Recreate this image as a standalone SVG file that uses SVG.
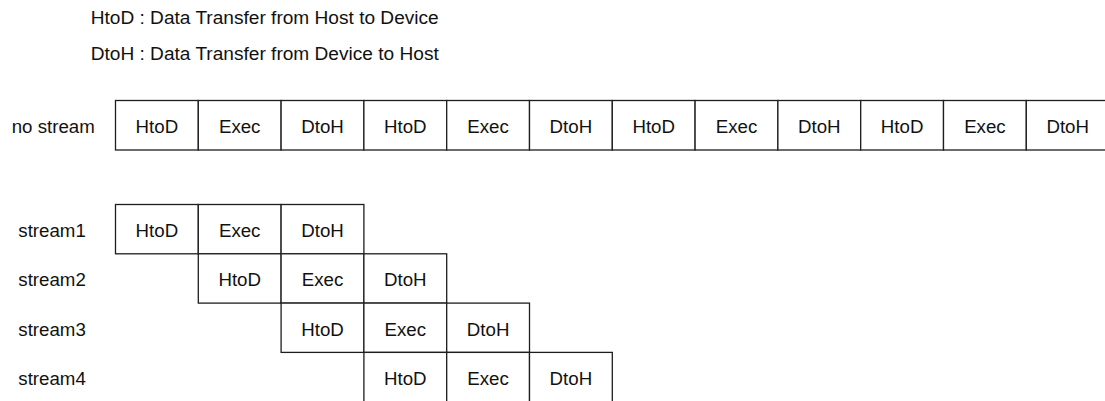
<svg xmlns="http://www.w3.org/2000/svg" width="1105" height="401" viewBox="0 0 1105 401">
<style>
text{font-family:"Liberation Sans",Arial,Helvetica,sans-serif;font-size:18.7px;fill:#111}
.lg{font-size:19.1px}
.c text{text-anchor:middle}
.c rect{fill:#fff;stroke:#1e1e1e;stroke-width:1.3}
</style>
<rect width="1105" height="401" fill="#fff"/>
<g id="legend">
<text class="lg" x="90.7" y="24.3">HtoD : Data Transfer from Host to Device</text>
<text class="lg" x="90.7" y="60.3">DtoH : Data Transfer from Device to Host</text>
</g>
<g id="labels">
<text x="11.7" y="133">no stream</text>
<text x="18.3" y="237">stream1</text>
<text x="18.3" y="286.3">stream2</text>
<text x="18.3" y="335.6">stream3</text>
<text x="18.3" y="384.9">stream4</text>
</g>
<g id="nostream" class="c">
<rect x="115.5" y="100.5" width="82.8" height="49.5"/><text x="156.9" y="133">HtoD</text>
<rect x="198.3" y="100.5" width="82.8" height="49.5"/><text x="239.7" y="133">Exec</text>
<rect x="281.1" y="100.5" width="82.8" height="49.5"/><text x="322.5" y="133">DtoH</text>
<rect x="363.9" y="100.5" width="82.8" height="49.5"/><text x="405.3" y="133">HtoD</text>
<rect x="446.7" y="100.5" width="82.8" height="49.5"/><text x="488.1" y="133">Exec</text>
<rect x="529.5" y="100.5" width="82.8" height="49.5"/><text x="570.9" y="133">DtoH</text>
<rect x="612.3" y="100.5" width="82.8" height="49.5"/><text x="653.7" y="133">HtoD</text>
<rect x="695.1" y="100.5" width="82.8" height="49.5"/><text x="736.5" y="133">Exec</text>
<rect x="777.9" y="100.5" width="82.8" height="49.5"/><text x="819.3" y="133">DtoH</text>
<rect x="860.7" y="100.5" width="82.8" height="49.5"/><text x="902.1" y="133">HtoD</text>
<rect x="943.5" y="100.5" width="82.8" height="49.5"/><text x="984.9" y="133">Exec</text>
<rect x="1026.3" y="100.5" width="82.8" height="49.5"/><text x="1067.7" y="133">DtoH</text>
</g>
<g id="stream1" class="c">
<rect x="115.5" y="204.5" width="82.8" height="49.3"/><text x="156.9" y="237">HtoD</text>
<rect x="198.3" y="204.5" width="82.8" height="49.3"/><text x="239.7" y="237">Exec</text>
<rect x="281.1" y="204.5" width="82.8" height="49.3"/><text x="322.5" y="237">DtoH</text>
</g>
<g id="stream2" class="c">
<rect x="198.3" y="253.8" width="82.8" height="49.3"/><text x="239.7" y="286.3">HtoD</text>
<rect x="281.1" y="253.8" width="82.8" height="49.3"/><text x="322.5" y="286.3">Exec</text>
<rect x="363.9" y="253.8" width="82.8" height="49.3"/><text x="405.3" y="286.3">DtoH</text>
</g>
<g id="stream3" class="c">
<rect x="281.1" y="303.1" width="82.8" height="49.3"/><text x="322.5" y="335.6">HtoD</text>
<rect x="363.9" y="303.1" width="82.8" height="49.3"/><text x="405.3" y="335.6">Exec</text>
<rect x="446.7" y="303.1" width="82.8" height="49.3"/><text x="488.1" y="335.6">DtoH</text>
</g>
<g id="stream4" class="c">
<rect x="363.9" y="352.4" width="82.8" height="49.3"/><text x="405.3" y="384.9">HtoD</text>
<rect x="446.7" y="352.4" width="82.8" height="49.3"/><text x="488.1" y="384.9">Exec</text>
<rect x="529.5" y="352.4" width="82.8" height="49.3"/><text x="570.9" y="384.9">DtoH</text>
</g>
<g id="connectors"></g>
</svg>
